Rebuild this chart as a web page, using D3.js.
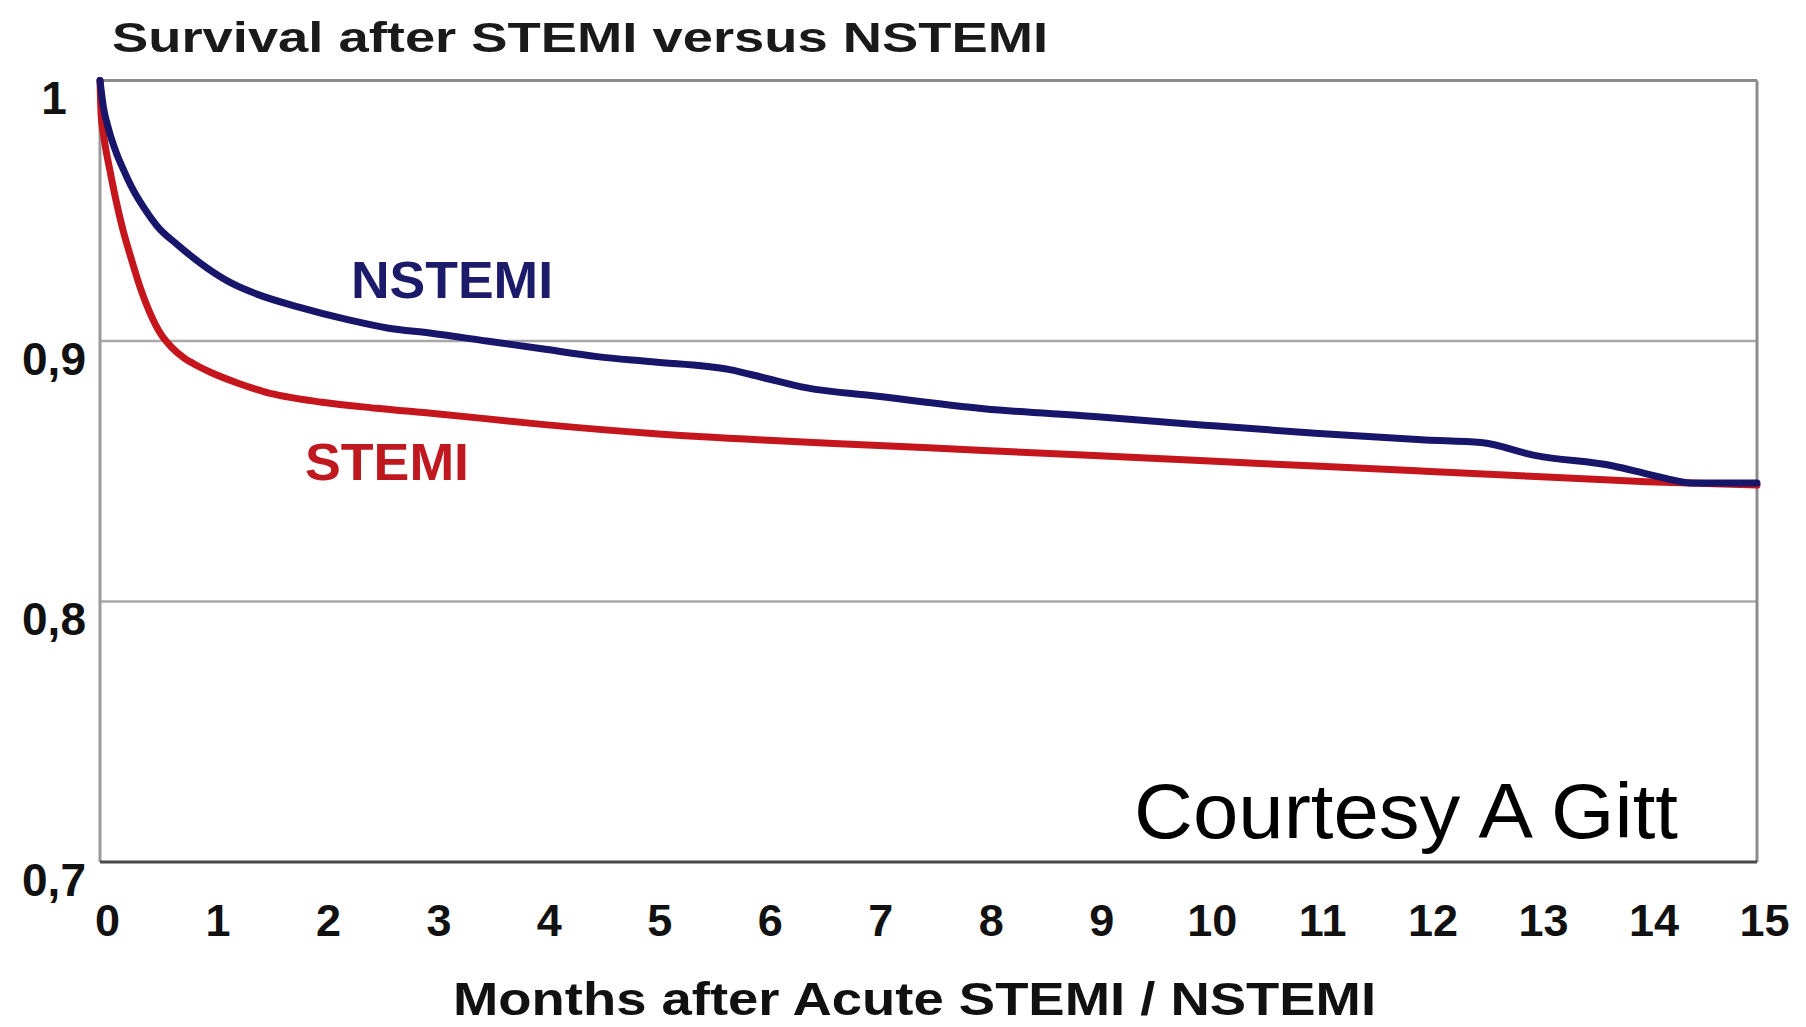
<!DOCTYPE html>
<html>
<head>
<meta charset="utf-8">
<script src="https://cdn.jsdelivr.net/npm/d3@7"></script>
<style>
  html, body { margin: 0; padding: 0; background: #fff; }
  svg { display: block; }
  text { font-family: "Liberation Sans", Arial, Helvetica, sans-serif; }
</style>
</head>
<body>
<svg id="chart" width="1806" height="1027"></svg>
<script>
// Kaplan-Meier survival estimates, months after the index infarction
const nstemiMonths = [0, 0.03, 0.08, 0.15, 0.21, 0.3, 0.4, 0.52, 0.7, 0.97, 1.2, 1.42, 1.8, 2.26, 2.6, 3.0, 3.5, 4.0, 4.5, 5.0, 5.7, 6.0, 6.4, 7.0, 8.0, 9.0, 10.0, 11.0, 12.0, 12.5, 13.0, 13.7, 14.0, 14.2, 14.4, 15.0];
const nstemiSurvival = [1.0, 0.99, 0.981, 0.972, 0.966, 0.958, 0.951, 0.944, 0.937, 0.928, 0.922, 0.918, 0.913, 0.908, 0.905, 0.903, 0.9, 0.897, 0.894, 0.892, 0.889, 0.886, 0.882, 0.879, 0.874, 0.871, 0.8677, 0.8646, 0.862, 0.861, 0.856, 0.852, 0.849, 0.847, 0.8455, 0.8455];

const stemiMonths = [0, 0.01, 0.04, 0.094, 0.15, 0.209, 0.28, 0.365, 0.45, 0.55, 0.65, 0.76, 0.88, 1.0, 1.25, 1.49, 2.01, 2.5, 3.02, 4.0, 5.0, 6.0, 7.0, 8.0, 9.0, 10.0, 11.0, 12.0, 13.0, 14.0, 15.0];
const stemiSurvival = [1.0, 0.987, 0.977, 0.9646, 0.953, 0.9425, 0.932, 0.9204, 0.911, 0.9027, 0.8975, 0.8935, 0.8905, 0.888, 0.8838, 0.8805, 0.8765, 0.8742, 0.8722, 0.868, 0.8645, 0.862, 0.86, 0.858, 0.856, 0.854, 0.852, 0.85, 0.848, 0.846, 0.8447];

const xTicks = [0, 1, 2, 3, 4, 5, 6, 7, 8, 9, 10, 11, 12, 13, 14, 15];
const yTicks = [0.7, 0.8, 0.9, 1];
const yTickLabels = ["0,7", "0,8", "0,9", "1"];

const chartTitle = "Survival after STEMI versus NSTEMI";
const xAxisTitle = "Months after Acute STEMI / NSTEMI";
const creditText = "Courtesy A Gitt";

const svg = d3.select("#chart");
const plot = { left: 100, right: 1757, top: 80.5, bottom: 862 };

const x = d3.scaleLinear().domain([0, 15]).range([plot.left, plot.right]);
const y = d3.scaleLinear().domain([0.7, 1]).range([plot.bottom, plot.top]);

svg.append("rect").attr("width", 1806).attr("height", 1027).attr("fill", "#fff");

// horizontal reference lines
svg.append("g").selectAll("line")
  .data([0.8, 0.9])
  .join("line")
  .attr("x1", plot.left).attr("x2", plot.right)
  .attr("y1", d => y(d)).attr("y2", d => y(d))
  .attr("stroke", "#a8a8a8").attr("stroke-width", 2.5);

// plot frame
const frame = svg.append("g").attr("fill", "none");
frame.append("line").attr("x1", plot.left).attr("x2", plot.right).attr("y1", y(1)).attr("y2", y(1))
  .attr("stroke", "#8c8c8c").attr("stroke-width", 3);
frame.append("line").attr("x1", x(15)).attr("x2", x(15)).attr("y1", y(1)).attr("y2", y(0.7))
  .attr("stroke", "#8c8c8c").attr("stroke-width", 3);
frame.append("line").attr("x1", x(0)).attr("x2", x(0)).attr("y1", y(1)).attr("y2", y(0.7))
  .attr("stroke", "#9a9a9a").attr("stroke-width", 3);
frame.append("line").attr("x1", plot.left).attr("x2", plot.right).attr("y1", y(0.7)).attr("y2", y(0.7))
  .attr("stroke", "#4a4a4a").attr("stroke-width", 3);

// x axis labels
const xAxis = d3.axisBottom(x).tickValues(xTicks).tickSize(0).tickPadding(0).tickFormat(d3.format("d"));
const gx = svg.append("g").attr("transform", `translate(0,${plot.bottom})`).call(xAxis);
gx.select(".domain").remove();
gx.selectAll("text")
  .attr("dy", null).attr("y", 74).attr("dx", 7)
  .attr("fill", "#111").attr("font-size", 45).attr("font-weight", "bold")
  .attr("font-family", "'Liberation Sans', Arial, sans-serif");

// y axis labels
const yAxis = d3.axisLeft(y).tickValues(yTicks).tickSize(0)
  .tickFormat((d, i) => yTickLabels[i]);
const gy = svg.append("g").attr("transform", `translate(${plot.left},0)`).call(yAxis);
gy.select(".domain").remove();
gy.selectAll("text")
  .attr("text-anchor", "middle").attr("x", -46).attr("dy", null).attr("y", 33)
  .attr("fill", "#111").attr("font-size", 46).attr("font-weight", "bold")
  .attr("font-family", "'Liberation Sans', Arial, sans-serif");

// survival curves
const line = d3.line()
  .x(d => x(d[0]))
  .y(d => y(d[1]))
  .curve(d3.curveMonotoneX);

const series = [
  { name: "STEMI", months: stemiMonths, values: stemiSurvival, color: "#c4161c" },
  { name: "NSTEMI", months: nstemiMonths, values: nstemiSurvival, color: "#17166b" }
];

svg.append("g").selectAll("path")
  .data(series)
  .join("path")
  .attr("d", s => line(s.months.map((m, i) => [m, s.values[i]])))
  .attr("fill", "none")
  .attr("stroke", s => s.color)
  .attr("stroke-width", 7)
  .attr("stroke-linejoin", "round")
  .attr("stroke-linecap", "round");

// series labels
svg.append("text").text("NSTEMI")
  .attr("x", 351).attr("y", 298)
  .attr("font-size", 51).attr("font-weight", "bold").attr("fill", "#1c1b6a")
  .attr("textLength", 202).attr("lengthAdjust", "spacingAndGlyphs");
svg.append("text").text("STEMI")
  .attr("x", 305).attr("y", 480)
  .attr("font-size", 51).attr("font-weight", "bold").attr("fill", "#c0181f")
  .attr("textLength", 164).attr("lengthAdjust", "spacingAndGlyphs");

// title, axis title and credit
svg.append("text").text(chartTitle)
  .attr("x", 112).attr("y", 52)
  .attr("font-size", 43).attr("font-weight", "bold").attr("fill", "#1a1a1a")
  .attr("textLength", 936).attr("lengthAdjust", "spacingAndGlyphs");

svg.append("text").text(xAxisTitle)
  .attr("x", 453).attr("y", 1015)
  .attr("font-size", 46).attr("font-weight", "bold").attr("fill", "#111")
  .attr("textLength", 923).attr("lengthAdjust", "spacingAndGlyphs");

svg.append("text").text(creditText)
  .attr("x", 1134).attr("y", 838)
  .attr("font-size", 78).attr("fill", "#000")
  .attr("textLength", 544).attr("lengthAdjust", "spacingAndGlyphs");
</script>
</body>
</html>
